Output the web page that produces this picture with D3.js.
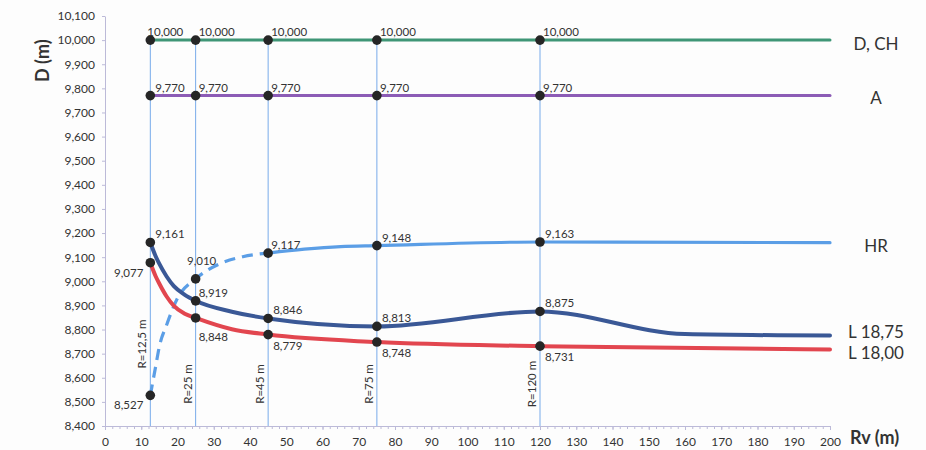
<!DOCTYPE html>
<html>
<head>
<meta charset="utf-8">
<script src="https://cdn.jsdelivr.net/npm/d3@7"></script>
<style>
  body { margin: 0; background: #fdfdfd; }
  svg text { font-family: Lato, "Open Sans", "Noto Sans", sans-serif; }
</style>
</head>
<body>
<svg id="chart" width="926" height="450"></svg>
<script>
// Marked radii (Rv, m), shared by every series
const radii = [12.5, 25, 45, 75, 120];
const radiusLabels = ["R=12,5 m", "R=25 m", "R=45 m", "R=75 m", "R=120 m"];

// D (m) at the marked radii
const dchValues   = [10000, 10000, 10000, 10000, 10000];
const aValues     = [9770, 9770, 9770, 9770, 9770];
const hrValues    = [8527, 9010, 9117, 9148, 9163];
const l1875Values = [9161, 8919, 8846, 8813, 8875];
const l1800Values = [9077, 8848, 8779, 8748, 8731];

// Unmarked points along each smoothed line, [Rv, D]
const dchTrace   = [[200, 10000]];
const aTrace     = [[200, 9770]];
const hrTrace    = [[14, 8649], [15, 8730], [17, 8819], [20, 8930], [32, 9075], [38, 9102], [55, 9133], [65, 9144], [200, 9160]];
const l1875Trace = [[14, 9103], [15, 9072], [17, 9020], [19, 8980], [22, 8944], [35, 8874], [160, 8781], [200, 8775]];
const l1800Trace = [[14, 9020], [15, 8990], [17, 8937], [19, 8898], [22, 8865], [35, 8801], [200, 8717]];

const seriesNames = ["D, CH", "A", "HR", "L 18,75", "L 18,00"];

// Axis extents and tick steps
const xDomain = [0, 200];
const yDomain = [8400, 10100];
const xMajorStep = 10, xMinorStep = 2, yStep = 100;
const xTitle = "Rv (m)";
const yTitle = "D (m)";
// HR is dashed up to this radius
const hrDashedUntil = 45;

// ---------- layout & styles ----------
const W = 926, H = 450;
const plot = { left: 105, right: 830, top: 16, bottom: 426 };
const colors = {
  "D, CH": "#3f9676", "A": "#8c5cb6", "HR": "#5b9ee6",
  "L 18,75": "#3a5896", "L 18,00": "#e2464f"
};
const widths = { "D, CH": 3, "A": 3, "HR": 3.2, "L 18,75": 4, "L 18,00": 4 };
const axisColor = "#bcbad8";
const guideColor = "#78abea";
const textColor = "#333";

// label placement codes -> offsets from the marker
const place = {
  up0: { dx: -3, dy: -4, anchor: "start" },
  up:  { dx: 3,  dy: -4, anchor: "start" },
  upR: { dx: 5,  dy: -4, anchor: "start" },
  upC: { dx: 6,  dy: -14, anchor: "middle" },
  dnL: { dx: -7, dy: 14, anchor: "end" },
  dn:  { dx: 5,  dy: 15, anchor: "start" },
  dnF: { dx: 3,  dy: 23, anchor: "start" }
};
const labelPlacement = {
  "D, CH":   ["up0", "up", "up", "up", "up"],
  "A":       ["upR", "up", "up", "up", "up"],
  "HR":      ["dnL", "upC", "up", "upR", "upR"],
  "L 18,75": ["upR", "up", "upR", "upR", "upR"],
  "L 18,00": ["dnL", "dnF", "dn", "dn", "dn"]
};
const endNudge = { "D, CH": 4, "A": 2, "HR": 3, "L 18,75": -4, "L 18,00": 4 };
const rLabelCenter = [344, 384, 384, 384, 384];

const svg = d3.select("#chart");
svg.append("rect").attr("width", W).attr("height", H).attr("fill", "#fdfdfd");

const x = d3.scaleLinear().domain(xDomain).range([plot.left, plot.right]);
const y = d3.scaleLinear().domain(yDomain).range([plot.bottom, plot.top]);

const series = [
  { name: "D, CH",   values: dchValues,   trace: dchTrace },
  { name: "A",       values: aValues,     trace: aTrace },
  { name: "HR",      values: hrValues,    trace: hrTrace },
  { name: "L 18,75", values: l1875Values, trace: l1875Trace },
  { name: "L 18,00", values: l1800Values, trace: l1800Trace }
].map((s, i) => {
  const marks = radii.map((r, j) => [r, s.values[j]]);
  const all = marks.concat(s.trace).sort((a, b) => a[0] - b[0]);
  return { ...s, name: seriesNames[i], marks, all };
});

// ---------- axes ----------
const fmt = d3.format(",");
const yAxis = d3.axisLeft(y)
  .tickValues(d3.range(yDomain[0], yDomain[1] + 1, yStep))
  .tickSize(3).tickSizeOuter(0).tickFormat(fmt);
const gy = svg.append("g").attr("transform", `translate(${plot.left},0)`).call(yAxis);
gy.select(".domain").attr("stroke", axisColor);
gy.selectAll(".tick line").attr("stroke", axisColor);
gy.selectAll(".tick text").attr("x", -10).attr("fill", textColor)
  .style("font-size", "12px");

const xMinor = d3.axisBottom(x)
  .tickValues(d3.range(xDomain[0], xDomain[1] + 1, xMinorStep))
  .tickSize(3).tickSizeOuter(0).tickFormat("");
const gxm = svg.append("g").attr("transform", `translate(0,${plot.bottom})`).call(xMinor);
gxm.select(".domain").attr("stroke", axisColor);
gxm.selectAll(".tick line").attr("stroke", axisColor);

const xAxis = d3.axisBottom(x)
  .tickValues(d3.range(xDomain[0], xDomain[1] + 1, xMajorStep))
  .tickSize(4).tickSizeOuter(0);
const gx = svg.append("g").attr("transform", `translate(0,${plot.bottom})`).call(xAxis);
gx.select(".domain").remove();
gx.selectAll(".tick line").attr("stroke", axisColor);
gx.selectAll(".tick text").attr("y", 20).attr("dy", 0).attr("fill", textColor)
  .style("font-size", "12px");

// axis titles
svg.append("text")
  .attr("transform", `translate(49,${y(9915)}) rotate(-90)`)
  .attr("text-anchor", "middle")
  .attr("fill", textColor)
  .style("font-size", "18px").style("font-weight", "bold")
  .text(yTitle);
svg.append("text")
  .attr("x", 850).attr("y", 444)
  .attr("fill", textColor)
  .style("font-size", "18px").style("font-weight", "bold")
  .text(xTitle);

// ---------- radius guides ----------
const guides = svg.append("g");
guides.selectAll("line").data(radii).join("line")
  .attr("x1", d => x(d)).attr("x2", d => x(d))
  .attr("y1", y(d3.max(dchValues))).attr("y2", y(yDomain[0]))
  .attr("stroke", guideColor).attr("stroke-width", 1);
guides.selectAll("text").data(radii).join("text")
  .attr("transform", (d, i) => `translate(${x(d) - 4},${rLabelCenter[i]}) rotate(-90)`)
  .attr("text-anchor", "middle")
  .attr("fill", textColor)
  .style("font-size", "11.5px")
  .text((d, i) => radiusLabels[i]);

// ---------- lines ----------
const line = d3.line().x(d => x(d[0])).y(d => y(d[1])).curve(d3.curveMonotoneX);
const gLines = svg.append("g").attr("fill", "none").attr("stroke-linecap", "round");
series.forEach(s => {
  if (s.name === "HR") {
    const dashed = s.all.filter(p => p[0] <= hrDashedUntil);
    const solid = s.all.filter(p => p[0] >= hrDashedUntil);
    gLines.append("path").attr("d", line(dashed))
      .attr("stroke", colors[s.name]).attr("stroke-width", widths[s.name])
      .attr("stroke-linecap", "butt").attr("stroke-dasharray", "11,7");
    gLines.append("path").attr("d", line(solid))
      .attr("stroke", colors[s.name]).attr("stroke-width", widths[s.name]);
  } else {
    gLines.append("path").attr("d", line(s.all))
      .attr("stroke", colors[s.name]).attr("stroke-width", widths[s.name]);
  }
});

// ---------- markers & value labels ----------
const gMarks = svg.append("g");
series.forEach(s => {
  gMarks.selectAll(null).data(s.marks).join("circle")
    .attr("cx", d => x(d[0])).attr("cy", d => y(d[1])).attr("r", 4.8)
    .attr("fill", "#262626");
  gMarks.selectAll(null).data(s.marks).join("text")
    .attr("x", (d, j) => x(d[0]) + place[labelPlacement[s.name][j]].dx)
    .attr("y", (d, j) => y(d[1]) + place[labelPlacement[s.name][j]].dy)
    .attr("text-anchor", (d, j) => place[labelPlacement[s.name][j]].anchor)
    .attr("fill", textColor)
    .style("font-size", "11.5px")
    .text(d => fmt(d[1]));
});

// ---------- series names at the line ends ----------
svg.append("g").selectAll("text").data(series).join("text")
  .attr("x", 876)
  .attr("y", s => y(s.all[s.all.length - 1][1]) + endNudge[s.name])
  .attr("dy", "0.35em")
  .attr("text-anchor", "middle")
  .attr("fill", textColor)
  .style("font-size", "17px")
  .text(s => s.name);
</script>
</body>
</html>
